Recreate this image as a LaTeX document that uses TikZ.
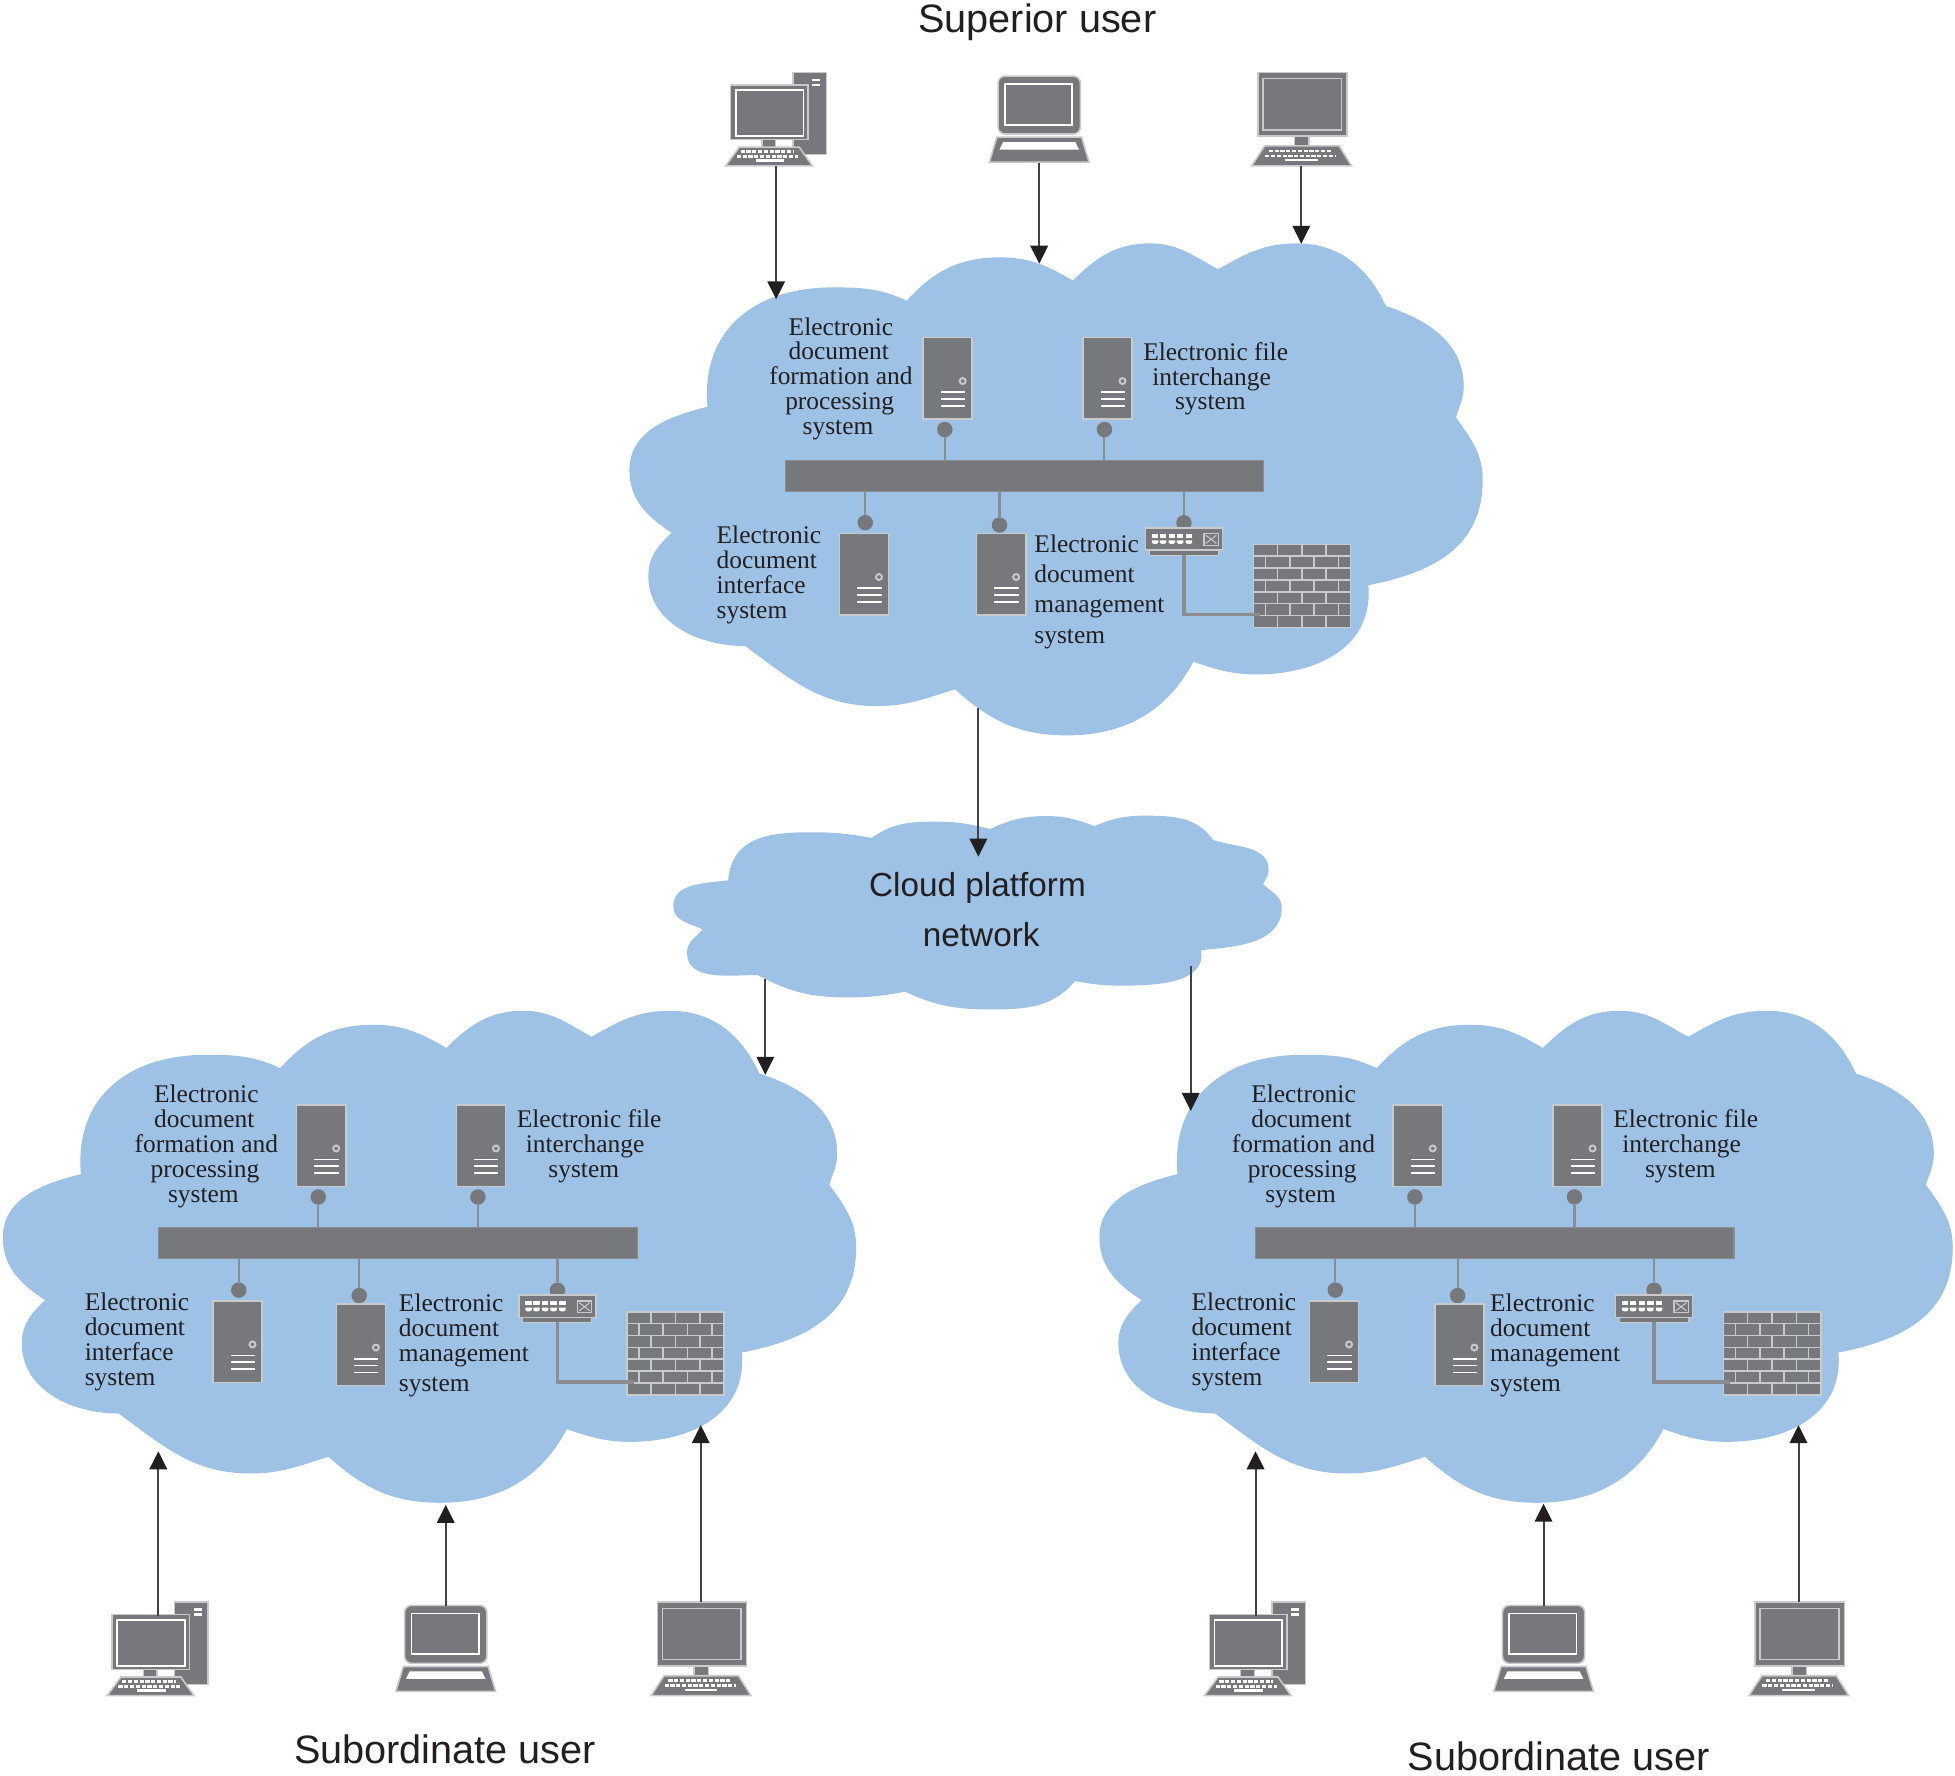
\documentclass[tikz,border=0pt]{standalone}
\usepackage{fontspec}
\setmainfont{Liberation Serif}
\newfontfamily\sansf{Liberation Sans}
\usetikzlibrary{arrows.meta}
\definecolor{cloudc}{HTML}{9DC2E6}
\definecolor{gr}{HTML}{77787B}
\definecolor{edgec}{HTML}{C8CACC}
\definecolor{stemc}{HTML}{8A8C8F}
\definecolor{ink}{HTML}{231F20}
\tikzset{
  x=0.025cm,y=-0.025cm,
  cloudfill/.style={fill=cloudc,draw=none},
  lab/.style={font=\fontsize{14.5}{14.226}\selectfont,text=ink,inner sep=0,outer sep=0,anchor=base west,align=left},
  biglab/.style={font=\sansf\fontsize{22.6}{26}\selectfont,text=ink,inner sep=0,anchor=base},
  flow/.style={draw=ink!85,line width=1.1pt,-{Triangle[length=0.36cm,width=0.35cm,color=ink]}},
  box/.style={fill=gr,draw=edgec,line width=0.9pt},
  wl/.style={draw=white,line width=1pt},
  ball/.style={circle,fill=gr,draw=none,minimum size=0.31cm,inner sep=0,outer sep=0},
  bar/.style={rectangle,fill=gr,draw=stemc,line width=0.6pt,minimum width=9.6cm,minimum height=0.62cm,inner sep=0,outer sep=0},
  stemline/.style={draw=stemc,line width=1.2pt},
  cableline/.style={draw=stemc,line width=2pt},
  keys/.style={draw=white,line width=1.4pt,dash pattern=on 2.4pt off 0.9pt},
  server/.pic={
    \path[box] (-19.7,-32.7) rectangle (19.7,32.7);
    \path[draw=edgec,line width=1.1pt] (12,2.3) circle (2.4);
    \path[wl] (-5.5,11.2) -- (14,11.2) (-5.5,16.6) -- (14,16.6) (-5.5,22.2) -- (14,22.2);
  },
  desktop/.pic={
    \path[box] (13,-75) rectangle (40,-9);
    \path[draw=white,line width=1.4pt] (28.5,-69) -- (35,-69) (28.5,-65) -- (35,-65);
    \path[box] (-12,-21) rectangle (-1,-14);
    \path[box] (-37,-65) rectangle (25,-21);
    \path[draw=white,line width=1pt] (-33,-61) rectangle (21.5,-24);
    \path[box] (-30,-15) -- (18,-15) -- (28.6,0) -- (-41,0) -- cycle;
    \path[keys] (-29,-11.5) -- (14,-11.5);
    \path[keys] (-32,-7.5) -- (17,-7.5);
    \path[draw=white,line width=1.4pt] (-17,-4.2) -- (6,-4.2);
  },
  laptop/.pic={
    \path[fill=gr,draw=edgec,line width=0.9pt,rounded corners=4pt] (-33,-23) -- (-33,-69.5) -- (33,-69.5) -- (33,-23) -- cycle;
    \path[draw=white,line width=1pt] (-27.5,-63) rectangle (26.5,-30.5);
    \path[box] (-34,-20.5) -- (34,-20.5) -- (40,-0.5) -- (-40,-0.5) -- cycle;
    \path[fill=white] (-29,-16.5) -- (29,-16.5) -- (32,-10.5) -- (-32,-10.5) -- cycle;
  },
  monitor/.pic={
    \path[box] (-5.4,-24) rectangle (6.3,-15);
    \path[box] (-34.7,-75) rectangle (36.8,-24);
    \path[draw=edgec,line width=1pt] (-30.7,-70) rectangle (32.3,-29);
    \path[box] (-29.4,-16) -- (30.3,-16) -- (40.3,0) -- (-39.7,0) -- cycle;
    \path[keys] (-26,-12) -- (24,-12);
    \path[keys] (-29,-8) -- (28,-8);
    \path[draw=white,line width=1.4pt] (-13,-4.5) -- (13,-4.5);
  },
  hub/.pic={
    \path[fill=gr,draw=edgec,line width=0.6pt] (-28,18) rectangle (27.5,22);
    \path[box] (-31,0) rectangle (30.8,18);
    \foreach \px in {-23.2,-16.8,-9.8,-3,4}{
      \path[fill=white] (\px-2.6,5) rectangle (\px+2.6,8.2);
      \path[fill=white] (\px-2.6,10) -- (\px+2.6,10) -- (\px+2.6,12) -- (\px+0.9,13) -- (\px-0.9,13) -- (\px-2.6,12) -- cycle;
    }
    \path[fill=gr,draw=edgec,line width=0.8pt] (16,4.5) rectangle (27.5,14);
    \path[draw=edgec,line width=0.6pt] (17.5,6) -- (26,12.5) (17.5,12.5) -- (26,6);
  },
  brickwall/.pic={
    \path[fill=gr,draw=edgec,line width=0.9pt] (0,0) rectangle (78.1,66.6);
    \foreach \r in {1,...,6}{\path[draw=edgec,line width=0.9pt] (0,9.51*\r) -- (78.1,9.51*\r);}
    \foreach \r in {0,2,4,6}{\foreach \c in {1,2,3}{\path[draw=edgec,line width=0.9pt] (19.5*\c,9.51*\r) -- (19.5*\c,9.51*\r+9.51);}}
    \foreach \r in {1,3,5}{\foreach \c in {0,1,2,3}{\path[draw=edgec,line width=0.9pt] (9.7+19.5*\c,9.51*\r) -- (9.7+19.5*\c,9.51*\r+9.51);}}
  },
}
\newcommand{\bigcloudpath}{
  (567.4,326.2) to[out=95,in=180,looseness=1.15] (668,230.5) to[out=0,in=155] (727.2,241.2)
  to[out=48,in=180] (802,206.4) to[out=0,in=150] (860.5,225)
  to[out=45,in=180] (922.3,195.2) to[out=0,in=152] (977.1,216)
  to[out=30,in=180] (1040,195.2) to[out=0,in=115] (1111.6,245.5)
  to[out=-18,in=90] (1174,310) to[out=-90,in=75] (1167.8,334.8)
  to[out=-55,in=90] (1189.2,385) to[out=-90,in=11,looseness=1.1] (1097.5,469.3)
  to[out=-85,in=0,looseness=1.1] (1008,540.9) to[out=180,in=-18] (957.1,530.8)
  to[out=-118,in=0] (855.5,589.8) to[out=180,in=-42] (766,552.9)
  to[out=-163,in=0] (703.2,566.3) to[out=180,in=-36] (597.6,518.2)
  to[out=180,in=-90] (520,462) to[out=90,in=223] (538.7,427.3)
  to[out=147,in=-90] (504.8,377) to[out=90,in=194] (567.4,326.2)
  -- cycle}
% #1 prefix, #2 dx, #3 dy, #4 formation dx, #5 interface dx, #6 server4 dx, #7 server4 dy, #8 management shift, #9 management text
\newcommand{\sysblock}[9]{
\begin{scope}[shift={(#2,#3)}]
  \fill[cloudfill] \bigcloudpath;
  \node[bar] (#1bus) at (821.7,381.6) {};
  \node[ball] (#1b1) at (757.8,344.5) {};
  \node[ball] (#1b2) at (885.8,344.5) {};
  \node[ball] (#1b3) at (694,419.2) {};
  \node[ball] (#1b4) at (801.6+#6,421.1+#7-2.5*0) {};
  \node[ball] (#1b5) at (949.6,419.3) {};
  \draw[stemline] (#1b1) -- (#1b1 |- #1bus.north);
  \draw[stemline] (#1b2) -- (#1b2 |- #1bus.north);
  \draw[stemline] (#1b3) -- (#1b3 |- #1bus.south);
  \draw[stemline] (#1b4) -- (#1b4 |- #1bus.south);
  \draw[stemline] (#1b5) -- (#1b5 |- #1bus.south);
  \pic at (760.1,303.3) {server};
  \pic at (888.3,303.3) {server};
  \pic at (693,460.5) {server};
  \pic at (803+#6,460.5+#7) {server};
  \pic at (949.6,423.3) {hub};
  \pic at (1005.2,436.6) {brickwall};
  \coordinate (#1cb) at (949.6,445);
  \coordinate (#1ce) at (1010.6,492.8);
  \draw[cableline] (#1cb) |- (#1ce);
  \node[lab] (#1f) at (617+#4,348.7) {\hspace*{0.39cm}Electronic\\\hspace*{0.39cm}document\\formation and\\\hspace*{0.32cm}processing\\\hspace*{0.67cm}system};
  \node[lab] (#1x) at (917,328.8) {Electronic file\\\hspace*{0.18cm}interchange\\\hspace*{0.635cm}system};
  \node[lab] (#1i) at (574.8+#5,495.8) {Electronic\\document\\interface\\system};
  \node[lab,shift={(#8)}] (#1m) at (829.7,516) {#9};
\end{scope}
}
\begin{document}
\begin{tikzpicture}
\useasboundingbox (0,0) rectangle (1568,1424.4);
\fill[white] (0,0) rectangle (1568,1424.4);
\sysblock{t}{0}{0}{0}{0}{0}{0}{0,0}{Electronic\\[3.1pt]document\\[3.1pt]management\\[3.1pt]system}
\sysblock{l}{-502.5}{615.5}{-6.5}{-4.3}{-11}{2.5}{-7.2,-15.3}{Electronic\\document\\management\\[3.2pt]system}
\sysblock{r}{377}{615.5}{-6}{4}{-9.5}{2.5}{-11.5,-15.3}{Electronic\\document\\management\\[3.2pt]system}
% platform cloud
\fill[cloudfill]
  (584,706) to[out=85,in=180,looseness=1.15] (650,667.5) to[out=0,in=170] (699,672)
  to[out=35,in=180] (749,659) to[out=0,in=165] (794,665)
  to[out=25,in=180] (839,654.5) to[out=0,in=160] (877.8,662.5)
  to[out=22,in=180] (918,654.2) to[out=0,in=125] (973,673.7)
  to[out=-18,in=90] (1017.5,698) to[out=-90,in=60] (1013,709)
  to[out=-45,in=90] (1028,728) to[out=-90,in=5] (963.3,762)
  to[out=-80,in=0] (900,790.5) to[out=180,in=-10] (862.2,786.9)
  to[out=-130,in=0] (795,809.6) to[out=180,in=-25] (726.1,795.4)
  to[out=-170,in=0] (680,800) to[out=180,in=-28] (607.6,782)
  to[out=180,in=-90] (551,764) to[out=90,in=230] (563.6,745.4)
  to[out=155,in=-90] (540,727) to[out=90,in=188] (584,706)
  -- cycle;
\node[font=\sansf\fontsize{19}{28.1}\selectfont,text=ink,inner sep=0,align=center,anchor=base] (plat) at (784,758.8) {Cloud platform\\\hspace*{0.15cm}network};
% computers
\pic at (623,133) {desktop};
\pic at (833.5,130.5) {laptop};
\pic at (1043.7,133) {monitor};
\pic at (127,1360) {desktop};
\pic at (357.5,1357.1) {laptop};
\pic at (562,1360) {monitor};
\pic at (1007,1360) {desktop};
\pic at (1238,1357.1) {laptop};
\pic at (1442.5,1360) {monitor};
% connector ends
\coordinate (s1) at (622.5,133); \coordinate (e1) at (622.5,240);
\coordinate (s2) at (833.5,130.5); \coordinate (e2) at (833.5,211.5);
\coordinate (s3) at (1043.7,133); \coordinate (e3) at (1043.7,195.5);
\coordinate (s4) at (784.7,568); \coordinate (e4) at (784.7,687);
\coordinate (s5) at (613.8,785); \coordinate (e5) at (613.8,862);
\coordinate (s6) at (955,775); \coordinate (e6) at (955,891);
\coordinate (s7) at (127,1296); \coordinate (e7) at (127,1164);
\coordinate (s8) at (357.5,1288); \coordinate (e8) at (357.5,1207);
\coordinate (s9) at (562,1285); \coordinate (e9) at (562,1143);
\coordinate (s10) at (1007,1296); \coordinate (e10) at (1007,1164);
\coordinate (s11) at (1238,1288); \coordinate (e11) at (1238,1206);
\coordinate (s12) at (1442.5,1285); \coordinate (e12) at (1442.5,1143);
\foreach \k in {1,...,12}{\draw[flow] (s\k) -- (e\k);}
% titles
\node[biglab] (sup) at (832,26) {Superior user};
\node[biglab] (subl) at (357,1414) {Subordinate user};
\node[biglab] (subr) at (1250,1420) {Subordinate user};
\end{tikzpicture}
\end{document}
